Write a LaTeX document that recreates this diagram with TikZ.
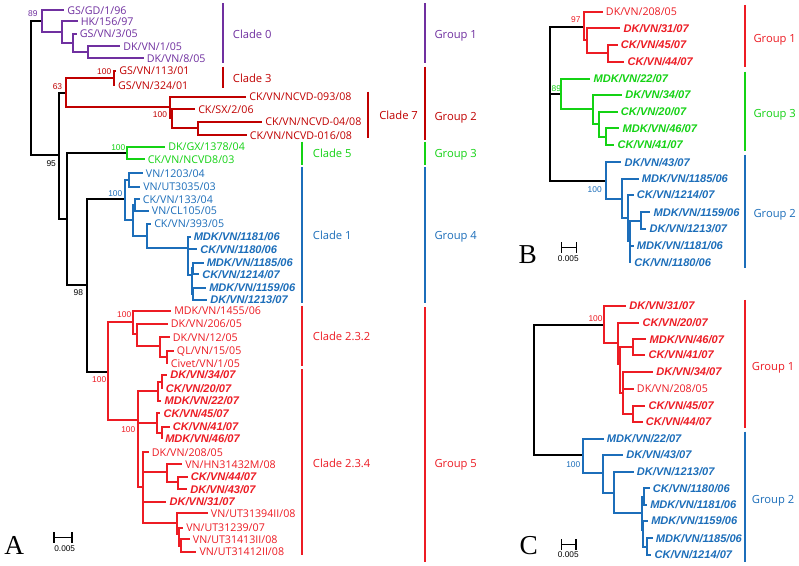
\documentclass[tikz,border=0pt]{standalone}
\usepackage{fontspec}
\setmainfont{Open Sans}
\newfontfamily\arialf{Liberation Sans}
\newfontfamily\timesf{Liberation Serif}
\definecolor{cpur}{RGB}{112,48,160}
\definecolor{cdred}{RGB}{192,0,0}
\definecolor{cgrn}{RGB}{20,210,20}
\definecolor{cblu}{RGB}{28,110,186}
\definecolor{cred}{RGB}{237,28,36}
\begin{document}
\begin{tikzpicture}[x=0.75pt,y=-0.75pt,
 tr/.style={line width=1.5pt},
 lf/.style={anchor=west, inner xsep=2.25pt, inner ysep=0pt, font=\fontsize{8}{8}\selectfont, text height=5.7pt, text depth=0pt},
 bl/.style={lf, font=\arialf\bfseries\itshape\fontsize{8.3}{8.3}\selectfont, text height=5.9pt},
 bs/.style={inner sep=0pt, font=\arialf\fontsize{6.3}{6.3}\selectfont},
 cl/.style={anchor=west, inner sep=0pt, font=\fontsize{8.4}{8.4}\selectfont, text height=6pt, text depth=0pt},
 bar/.style={line width=1.3pt},
 pl/.style={inner sep=0pt, font=\timesf\fontsize{20.5}{20.5}\selectfont, text depth=0pt},
 sc/.style={inner sep=0pt, font=\arialf\fontsize{6.2}{6.2}\selectfont},
 sbar/.style={line width=1pt, |-|}
]
\fill[white] (0,0) rectangle (799,566);
\useasboundingbox (0,0) rectangle (799,566);

% ================= Panel A =================
\coordinate (R0) at (31,88);
\coordinate (R1) at (59,155);
\coordinate (R2) at (66.7,219);
\coordinate (R3) at (87.3,285.5);
% clade 0
\coordinate (c0) at (41.7,21);
\coordinate (c0a) at (62,32);
\coordinate (c0b) at (73,43);
\coordinate (c0c) at (88,52);
\node[lf,cpur] (a01) at (64,10.5) {GS/GD/1/96};
\node[lf,cpur] (a02) at (77.5,21.5) {HK/156/97};
\node[lf,cpur] (a03) at (76.5,34) {GS/VN/3/05};
\node[lf,cpur] (a04) at (120,46.5) {DK/VN/1/05};
\node[lf,cpur] (a05) at (143.5,58.3) {DK/VN/8/05};
\draw[tr] (R0) |- (c0);
\draw[tr,cpur] (c0) |- (a01.west) (c0) |- (c0a) (c0a) |- (a02.west) (c0a) |- (c0b)
  (c0b) |- (a03.west) (c0b) |- (c0c) (c0c) |- (a04.west) (c0c) |- (a05.west);
% clade 3 / 7
\coordinate (c37) at (65.7,93);
\coordinate (c3) at (114.3,77.7);
\coordinate (c7) at (170,107.3);
\coordinate (c7b) at (172.3,118.5);
\coordinate (c7c) at (198.3,128.5);
\node[lf,cdred] (a06) at (116,71) {GS/VN/113/01};
\node[lf,cdred] (a07) at (114.8,85.5) {GS/VN/324/01};
\node[lf,cdred] (a08) at (246,97) {CK/VN/NCVD-093/08};
\node[lf,cdred] (a09) at (195,109.5) {CK/SX/2/06};
\node[lf,cdred] (a10) at (262,122) {CK/VN/NCVD-04/08};
\node[lf,cdred] (a11) at (246.5,135.5) {CK/VN/NCVD-016/08};
\draw[tr] (R0) |- (R1) (R1) |- (c37);
\draw[tr,cdred] (c37) |- (c3) (c3) |- (a06.west) (c3) |- (a07.west) (c37) |- (c7)
  (c7) |- (a08.west) (c7) |- (c7b) (c7b) |- (a09.west) (c7b) |- (c7c)
  (c7c) |- (a10.west) (c7c) |- (a11.west);
% clade 5
\coordinate (c5) at (126.7,153);
\node[lf,cgrn] (a12) at (165,147) {DK/GX/1378/04};
\node[lf,cgrn] (a13) at (144.5,159.5) {CK/VN/NCVD8/03};
\draw[tr] (R1) |- (R2) (R2) |- (c5);
\draw[tr,cgrn] (c5) |- (a12.west) (c5) |- (a13.west);
% clade 1
\coordinate (c1) at (125,199.5);
\coordinate (c1a) at (129,180);
\coordinate (c1b) at (133.3,220);
\coordinate (c1c) at (135,205);
\coordinate (c1d) at (146.7,236);
\coordinate (c1e) at (188.3,248);
\coordinate (c1f) at (191.7,275);
\coordinate (c1g) at (193.3,268.5);
\coordinate (c1h) at (193.3,294);
\node[lf,cblu] (a14) at (142.7,173.3) {VN/1203/04};
\node[lf,cblu] (a15) at (140,186.7) {VN/UT3035/03};
\node[lf,cblu] (a16) at (139.7,199.3) {CK/VN/133/04};
\node[lf,cblu] (a17) at (148.7,210.7) {VN/CL105/05};
\node[lf,cblu] (a18) at (151,224) {CK/VN/393/05};
\node[bl,cblu] (a19) at (190.5,236.7) {MDK/VN/1181/06};
\node[bl,cblu] (a20) at (197,249.3) {CK/VN/1180/06};
\node[bl,cblu] (a21) at (203.5,262.7) {MDK/VN/1185/06};
\node[bl,cblu] (a22) at (199,274.3) {CK/VN/1214/07};
\node[bl,cblu] (a23) at (206,287.7) {MDK/VN/1159/06};
\node[bl,cblu] (a24) at (207,300) {DK/VN/1213/07};
\draw[tr] (R2) |- (R3) (R3) |- (c1);
\draw[tr,cblu] (c1) |- (c1a) (c1a) |- (a14.west) (c1a) |- (a15.west) (c1) |- (c1b)
  (c1b) |- (c1c) (c1c) |- (a16.west) (c1c) |- (a17.west) (c1b) |- (c1d)
  (c1d) |- (a18.west) (c1d) |- (c1e) (c1e) |- (a19.west) (c1e) |- (a20.west)
  (c1e) |- (c1f) (c1f) |- (c1g) (c1g) |- (a21.west) (c1g) |- (a22.west)
  (c1f) |- (c1h) (c1h) |- (a23.west) (c1h) |- (a24.west);
% clade 2.3
\coordinate (c23) at (108.3,371.5);
\coordinate (c232) at (133.3,322.5);
\coordinate (c232a) at (136.7,334.5);
\coordinate (c232b) at (160,346);
\coordinate (c232c) at (166.7,357);
\node[lf,cred] (a25) at (171,311) {MDK/VN/1455/06};
\node[lf,cred] (a26) at (167.7,324) {DK/VN/206/05};
\node[lf,cred] (a27) at (169.7,337.3) {DK/VN/12/05};
\node[lf,cred] (a28) at (173.7,351) {QL/VN/15/05};
\node[lf,cred] (a29) at (167.7,363.3) {Civet/VN/1/05};
\coordinate (c234) at (138.3,420);
\coordinate (c234a) at (158.3,391);
\coordinate (c234b) at (161.7,381.5);
\coordinate (c234c) at (156.7,423);
\coordinate (c234d) at (161.7,432.5);
\coordinate (c234e) at (143.3,487);
\coordinate (c234f) at (166.7,471.7);
\coordinate (c234g) at (177.7,482);
\coordinate (c234h) at (176.7,523.3);
\coordinate (c234i) at (179,533.5);
\coordinate (c234j) at (181,545.5);
\node[bl,cred] (a30) at (167,375) {DK/VN/34/07};
\node[bl,cred] (a31) at (162.7,388.3) {CK/VN/20/07};
\node[bl,cred] (a32) at (161.3,401) {MDK/VN/22/07};
\node[bl,cred] (a33) at (160.3,413.3) {CK/VN/45/07};
\node[bl,cred] (a34) at (169.7,426.7) {CK/VN/41/07};
\node[bl,cred] (a35) at (162,438.3) {MDK/VN/46/07};
\node[lf,cred] (a36) at (148.7,452.3) {DK/VN/208/05};
\node[lf,cred] (a37) at (182,464.3) {VN/HN31432M/08};
\node[bl,cred] (a38) at (187.7,476.7) {CK/VN/44/07};
\node[bl,cred] (a39) at (187,489.3) {DK/VN/43/07};
\node[bl,cred] (a40) at (166.3,501.7) {DK/VN/31/07};
\node[lf,cred] (a41) at (207.7,513.3) {VN/UT31394II/08};
\node[lf,cred] (a42) at (183,527.7) {VN/UT31239/07};
\node[lf,cred] (a43) at (189.7,539.3) {VN/UT31413II/08};
\node[lf,cred] (a44) at (196.3,551.7) {VN/UT31412II/08};
\draw[tr] (R3) |- (c23);
\draw[tr,cred] (c23) |- (c232) (c232) |- (a25.west) (c232) |- (c232a) (c232a) |- (a26.west)
  (c232a) |- (c232b) (c232b) |- (a27.west) (c232b) |- (c232c) (c232c) |- (a28.west) (c232c) |- (a29.west)
  (c23) |- (c234) (c234) |- (c234a) (c234a) |- (c234b) (c234b) |- (a30.west) (c234b) |- (a31.west)
  (c234a) |- (a32.west) (c234) |- (c234c) (c234c) |- (a33.west) (c234c) |- (c234d)
  (c234d) |- (a34.west) (c234d) |- (a35.west) (c234) |- (c234e) (c234e) |- (a36.west)
  (c234e) |- (c234f) (c234f) |- (a37.west) (c234f) |- (c234g) (c234g) |- (a38.west) (c234g) |- (a39.west)
  (c234e) |- (a40.west) (c234e) |- (c234h) (c234h) |- (a41.west) (c234h) |- (c234i)
  (c234i) |- (a42.west) (c234i) |- (c234j) (c234j) |- (a43.west) (c234j) |- (a44.west);
% support values A
\node[bs,cpur] (s01) at (32.8,14) {89};
\node[bs,cdred] (s02) at (57.5,86.7) {63};
\node[bs,cdred] (s03) at (104.2,71.7) {100};
\node[bs,cdred] (s04) at (160,115) {100};
\node[bs] (s05) at (51.2,163.3) {95};
\node[bs,cgrn] (s06) at (118.3,147.3) {100};
\node[bs,cblu] (s07) at (115.3,194) {100};
\node[bs] (s08) at (78.3,292.7) {98};
\node[bs,cred] (s09) at (124.2,314.3) {100};
\node[bs,cred] (s10) at (99.2,380) {100};
\node[bs,cred] (s11) at (128.3,429.3) {100};
% bars A
\draw[bar,cpur] (222.7,3.3) coordinate (k01) -- (222.7,63.3) coordinate (k02);
\draw[bar,cdred] (222.7,66.7) coordinate (k03) -- (222.7,88.3) coordinate (k04);
\draw[bar,cdred] (368.3,91.7) coordinate (k05) -- (368.3,138.3) coordinate (k06);
\draw[bar,cgrn] (302.3,141.7) coordinate (k07) -- (302.3,165) coordinate (k08);
\draw[bar,cblu] (302.3,167) coordinate (k09) -- (302.3,303) coordinate (k10);
\draw[bar,cred] (302.3,306) coordinate (k11) -- (302.3,366) coordinate (k12);
\draw[bar,cred] (302.3,369.3) coordinate (k13) -- (302.3,555) coordinate (k14);
\draw[bar,cpur] (425,3.3) coordinate (m01) -- (425,63.3) coordinate (m02);
\draw[bar,cdred] (425,66.7) coordinate (m03) -- (425,140) coordinate (m04);
\draw[bar,cgrn] (425,141.7) coordinate (m05) -- (425,165) coordinate (m06);
\draw[bar,cblu] (425,167) coordinate (m07) -- (425,303) coordinate (m08);
\draw[bar,cred] (425,307.3) coordinate (m09) -- (425,561.7) coordinate (m10);
\node[cl,cpur] (t01) at (232.7,34.3) {Clade 0};
\node[cl,cdred] (t02) at (232.7,78.3) {Clade 3};
\node[cl,cdred] (t03) at (379,116) {Clade 7};
\node[cl,cgrn] (t04) at (312.7,154) {Clade 5};
\node[cl,cblu] (t05) at (312.7,236) {Clade 1};
\node[cl,cred] (t06) at (312.7,336.7) {Clade 2.3.2};
\node[cl,cred] (t07) at (312.7,463.3) {Clade 2.3.4};
\node[cl,cpur] (g01) at (434.3,34.3) {Group 1};
\node[cl,cdred] (g02) at (434.3,116.7) {Group 2};
\node[cl,cgrn] (g03) at (434.3,154) {Group 3};
\node[cl,cblu] (g04) at (434.3,236) {Group 4};
\node[cl,cred] (g05) at (434.3,463) {Group 5};
\node[pl] (pA) at (14.2,545.8) {A};
\draw[sbar] (53.3,537.7) coordinate (sa1) -- (72.7,537.7) coordinate (sa2);
\node[sc] (sA) at (64.7,548.3) {0.005};

% ================= Panel B =================
\coordinate (RB) at (550,94);
\coordinate (b1) at (584,26.7);
\coordinate (b1a) at (586.7,40.5);
\coordinate (b1b) at (608.3,53.3);
\coordinate (b3) at (561,94);
\coordinate (b3a) at (592.7,109.5);
\coordinate (b3b) at (599.3,124);
\coordinate (b3c) at (606,136.7);
\coordinate (b2) at (606,181);
\coordinate (b2a) at (621.7,199.3);
\coordinate (b2b) at (628.3,218);
\coordinate (b2c) at (630,241);
\coordinate (b2d) at (641,220.7);
\node[lf,cred] (bb01) at (602.7,11.7) {DK/VN/208/05};
\node[bl,cred] (bb02) at (620.3,28.3) {DK/VN/31/07};
\node[bl,cred] (bb03) at (617.7,45) {CK/VN/45/07};
\node[bl,cred] (bb04) at (624.3,61.7) {CK/VN/44/07};
\node[bl,cgrn] (bb05) at (590.3,78.7) {MDK/VN/22/07};
\node[bl,cgrn] (bb06) at (622,95) {DK/VN/34/07};
\node[bl,cgrn] (bb07) at (617.7,111.7) {CK/VN/20/07};
\node[bl,cgrn] (bb08) at (619.3,128.3) {MDK/VN/46/07};
\node[bl,cgrn] (bb09) at (614.3,145) {CK/VN/41/07};
\node[bl,cblu] (bb10) at (621.3,162.3) {DK/VN/43/07};
\node[bl,cblu] (bb11) at (638.7,179) {MDK/VN/1185/06};
\node[bl,cblu] (bb12) at (633.7,195) {CK/VN/1214/07};
\node[bl,cblu] (bb13) at (650.3,212.3) {MDK/VN/1159/06};
\node[bl,cblu] (bb14) at (646.3,229) {DK/VN/1213/07};
\node[bl,cblu] (bb15) at (633.7,245.7) {MDK/VN/1181/06};
\node[bl,cblu] (bb16) at (631,262.3) {CK/VN/1180/06};
\draw[tr] (RB) |- (b1) (RB) |- (b3) (RB) |- (b2);
\draw[tr,cred] (b1) |- (bb01.west) (b1) |- (b1a) (b1a) |- (bb02.west) (b1a) |- (b1b)
  (b1b) |- (bb03.west) (b1b) |- (bb04.west);
\draw[tr,cgrn] (b3) |- (bb05.west) (b3) |- (b3a) (b3a) |- (bb06.west) (b3a) |- (b3b)
  (b3b) |- (bb07.west) (b3b) |- (b3c) (b3c) |- (bb08.west) (b3c) |- (bb09.west);
\draw[tr,cblu] (b2) |- (bb10.west) (b2) |- (b2a) (b2a) |- (bb11.west) (b2a) |- (b2b)
  (b2b) |- (bb12.west) (b2b) |- (b2c) (b2c) |- (b2d) (b2d) |- (bb13.west) (b2d) |- (bb14.west)
  (b2c) |- (bb15.west) (b2c) |- (bb16.west);
\node[bs,cred] (sb1) at (575.8,19.3) {97};
\node[bs,cgrn] (sb2) at (556.3,88.3) {89};
\node[bs,cblu] (sb3) at (594.7,189.3) {100};
\draw[bar,cred] (745,5) coordinate (n01) -- (745,66.7) coordinate (n02);
\draw[bar,cgrn] (745,71.7) coordinate (n03) -- (745,151) coordinate (n04);
\draw[bar,cblu] (745,155) coordinate (n05) -- (745,268.3) coordinate (n06);
\node[cl,cred] (gb1) at (753.3,39) {Group 1};
\node[cl,cgrn] (gb3) at (753.3,114) {Group 3};
\node[cl,cblu] (gb2) at (753.3,214) {Group 2};
\node[pl] (pB) at (527.7,255) {B};
\draw[sbar] (561,247.7) coordinate (sb1a) -- (577.3,247.7) coordinate (sb1b);
\node[sc] (sB) at (568.3,259) {0.005};

% ================= Panel C =================
\coordinate (RC) at (534,390);
\coordinate (cr) at (604.3,325);
\coordinate (cr1) at (618.3,343.3);
\coordinate (cr2) at (620,363.7);
\coordinate (cr3) at (633.3,347);
\coordinate (cr4) at (623.3,393);
\coordinate (cr5) at (633.3,414);
\coordinate (cb) at (582.7,455);
\coordinate (cb1) at (603.3,473.3);
\coordinate (cb2) at (614.3,492.7);
\coordinate (cb3) at (641.7,513.3);
\coordinate (cb4) at (644,496.7);
\coordinate (cb5) at (643.3,530);
\coordinate (cb6) at (646.7,546.7);
\node[bl,cred] (cc01) at (626,305.7) {DK/VN/31/07};
\node[bl,cred] (cc02) at (639.3,322.7) {CK/VN/20/07};
\node[bl,cred] (cc03) at (646.3,339.3) {MDK/VN/46/07};
\node[bl,cred] (cc04) at (645.3,355) {CK/VN/41/07};
\node[bl,cred] (cc05) at (653,371.7) {DK/VN/34/07};
\node[lf,cred] (cc06) at (633.7,389) {DK/VN/208/05};
\node[bl,cred] (cc07) at (645.3,406) {CK/VN/45/07};
\node[bl,cred] (cc08) at (642.7,421.7) {CK/VN/44/07};
\node[bl,cblu] (cc09) at (603.7,439) {MDK/VN/22/07};
\node[bl,cblu] (cc10) at (623,455) {DK/VN/43/07};
\node[bl,cblu] (cc11) at (633.7,471.7) {DK/VN/1213/07};
\node[bl,cblu] (cc12) at (649.7,488.3) {CK/VN/1180/06};
\node[bl,cblu] (cc13) at (647,505) {MDK/VN/1181/06};
\node[bl,cblu] (cc14) at (648,521) {MDK/VN/1159/06};
\node[bl,cblu] (cc15) at (652.7,538.3) {MDK/VN/1185/06};
\node[bl,cblu] (cc16) at (651.3,555) {CK/VN/1214/07};
\draw[tr] (RC) |- (cr) (RC) |- (cb);
\draw[tr,cred] (cr) |- (cc01.west) (cr) |- (cr1) (cr1) |- (cc02.west) (cr1) |- (cr2)
  (cr2) |- (cr3) (cr3) |- (cc03.west) (cr3) |- (cc04.west) (cr2) |- (cr4)
  (cr4) |- (cc05.west) (cr4) |- (cc06.west) (cr4) |- (cr5) (cr5) |- (cc07.west) (cr5) |- (cc08.west);
\draw[tr,cblu] (cb) |- (cc09.west) (cb) |- (cb1) (cb1) |- (cc10.west) (cb1) |- (cb2)
  (cb2) |- (cc11.west) (cb2) |- (cb3) (cb3) |- (cb4) (cb4) |- (cc12.west) (cb4) |- (cc13.west)
  (cb3) |- (cb5) (cb5) |- (cc14.west) (cb5) |- (cb6) (cb6) |- (cc15.west) (cb6) |- (cc16.west);
\node[bs,cred] (sc1) at (595.5,319) {100};
\node[bs,cblu] (sc2) at (573.3,465) {100};
\draw[bar,cred] (745,300) coordinate (p01) -- (745,428.3) coordinate (p02);
\draw[bar,cblu] (745,431.7) coordinate (p03) -- (745,561.7) coordinate (p04);
\node[cl,cred] (gc1) at (751.7,366) {Group 1};
\node[cl,cblu] (gc2) at (751.7,499) {Group 2};
\node[pl] (pC) at (528.7,545.8) {C};
\draw[sbar] (561,544.3) coordinate (sc1a) -- (576.7,544.3) coordinate (sc1b);
\node[sc] (sC) at (568.3,555) {0.005};
\end{tikzpicture}
\end{document}
